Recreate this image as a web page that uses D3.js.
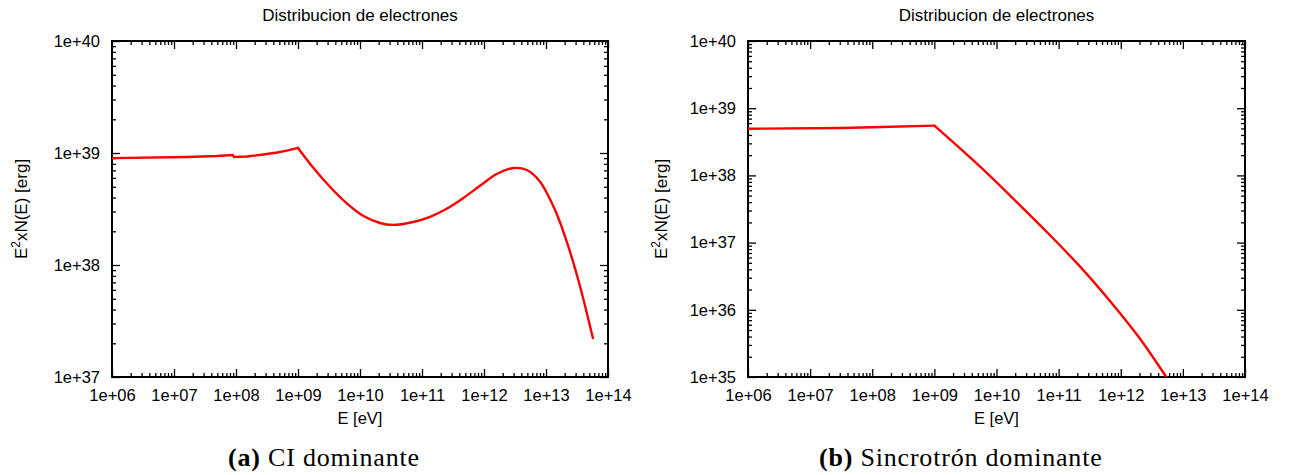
<!DOCTYPE html>
<html lang="es">
<head>
<meta charset="UTF-8">
<title>Distribucion de electrones</title>
<script src="https://cdn.jsdelivr.net/npm/d3@7"></script>
<style>
  body { margin: 0; background: #fff; }
  text { font-family: "Liberation Sans", Arial, sans-serif; fill: #000; }
  .caption { font-family: "Liberation Serif", "DejaVu Serif", serif; }
</style>
</head>
<body>
<svg id="fig" width="1301" height="475"></svg>
<script>
// panel (a): CI dominante  (flat injection part, then cooled part after the 1e9 break)
const energyA = [1e6, 1.6e7, 4.9e7, 8.9e7, 9.3e7, 1.5e8, 2.75e8, 4.6e8, 6.6e8, 1e9,
                 1.75e9, 3.3e9, 6.2e9, 1.12e10, 2.1e10, 3.4e10, 7.2e10, 1.35e11,
                 2.5e11, 4.6e11, 8.6e11, 1.6e12, 3.0e12, 4.9e12, 7.9e12, 1.4e13,
                 2.2e13, 3.5e13, 5.7e13];
const valueA  = [9.0e38, 9.2e38, 9.4e38, 9.6e38, 9.2e38, 9.3e38, 9.7e38, 1.01e39, 1.05e39, 1.11e39,
                 7.43e38, 4.97e38, 3.53e38, 2.75e38, 2.37e38, 2.28e38, 2.42e38, 2.69e38,
                 3.18e38, 3.95e38, 5.09e38, 6.49e38, 7.35e38, 7.05e38, 5.6e38, 3.1e38,
                 1.57e38, 6.6e37, 2.23e37];
const breakA = 9;   // index of the 1e9 corner

// panel (b): Sincrotron dominante
const energyB = [1e6, 3.0e7, 1.0e8, 1e9, 5.4e9, 2.3e10, 7.9e10, 2.2e11, 7.4e11, 2.0e12, 5.4e12];
const valueB  = [4.95e38, 5.07e38, 5.2e38, 5.5e38, 1.36e38, 3.71e37, 1.19e37, 4.42e36, 1.21e36, 3.8e35, 1.0e35];
const breakB = 3;

const xTickLabels = ["1e+06", "1e+07", "1e+08", "1e+09", "1e+10", "1e+11", "1e+12", "1e+13", "1e+14"];
const yTickLabelsA = ["1e+37", "1e+38", "1e+39", "1e+40"];
const yTickLabelsB = ["1e+35", "1e+36", "1e+37", "1e+38", "1e+39", "1e+40"];

const titleText = "Distribucion de electrones";
const xTitle = "E [eV]";

const svg = d3.select("#fig");

function minorTicks(lo, hi) {
    const out = [];
    for (let e = lo; e < hi; e++)
        for (let m = 2; m <= 9; m++) out.push(m * Math.pow(10, e));
    return out;
}

function drawPanel(opts) {
    const x = d3.scaleLog().domain([1e6, 1e14]).range([opts.left, opts.right]);
    const y = d3.scaleLog().domain(opts.yDomain).range([opts.bottom, opts.top]);
    const g = svg.append("g");

    const xMajor = xTickLabels.map(s => +s);
    const yMajor = opts.yLabels.map(s => +s);
    const ey = opts.yDomain.map(v => Math.round(Math.log10(v)));
    const xMinor = minorTicks(6, 14), yMinor = minorTicks(ey[0], ey[1]);

    // inward ticks on all four sides, like gnuplot
    const tickSets = [
        [d3.axisBottom(x), opts.bottom, "x"], [d3.axisTop(x), opts.top, "x"],
        [d3.axisLeft(y), opts.left, "y"], [d3.axisRight(y), opts.right, "y"]
    ];
    tickSets.forEach(([axis, pos, dir]) => {
        const major = dir === "x" ? xMajor : yMajor;
        const minor = dir === "x" ? xMinor : yMinor;
        const tr = dir === "x" ? `translate(0,${pos})` : `translate(${pos},0)`;
        [[minor, 4], [major, 8]].forEach(([vals, len]) => {
            const a = axis.tickValues(vals).tickSize(-len).tickFormat("");
            g.append("g").attr("transform", tr).call(a)
                .call(s => s.select(".domain").remove())
                .selectAll("line").attr("stroke", "#000").attr("stroke-width", 1.3);
        });
    });

    // labels
    g.append("g").attr("transform", `translate(0,${opts.bottom})`)
        .call(d3.axisBottom(x).tickValues(xMajor).tickSize(0).tickPadding(12)
            .tickFormat((d, i) => xTickLabels[i]))
        .call(s => s.select(".domain").remove())
        .selectAll("text").attr("font-size", 16.5).attr("font-family", "Liberation Sans, Arial, sans-serif");
    g.append("g").attr("transform", `translate(${opts.left},0)`)
        .call(d3.axisLeft(y).tickValues(yMajor).tickSize(0).tickPadding(12)
            .tickFormat((d, i) => opts.yLabels[i]))
        .call(s => s.select(".domain").remove())
        .selectAll("text").attr("font-size", 16.5).attr("font-family", "Liberation Sans, Arial, sans-serif");

    // frame
    g.append("rect")
        .attr("x", opts.left).attr("y", opts.top)
        .attr("width", opts.right - opts.left).attr("height", opts.bottom - opts.top)
        .attr("fill", "none").attr("stroke", "#000").attr("stroke-width", 2);

    // curve: two pieces meeting at the sharp break
    const clipId = "clip" + opts.id;
    svg.append("clipPath").attr("id", clipId).append("rect")
        .attr("x", opts.left).attr("y", opts.top)
        .attr("width", opts.right - opts.left).attr("height", opts.bottom - opts.top);
    const pts = opts.energy.map((e, i) => [e, opts.values[i]]);
    const pieces = [
        [pts.slice(0, opts.brk + 1), d3.curveLinear],
        [pts.slice(opts.brk), d3.curveCatmullRom.alpha(0.5)]
    ];
    pieces.forEach(([p, curve]) => {
        g.append("path")
            .datum(p)
            .attr("clip-path", `url(#${clipId})`)
            .attr("fill", "none").attr("stroke", "#ff0000").attr("stroke-width", 2.4)
            .attr("stroke-linejoin", "round").attr("stroke-linecap", "round")
            .attr("d", d3.line().x(d => x(d[0])).y(d => y(d[1])).curve(curve));
    });

    const cx = (opts.left + opts.right) / 2;
    g.append("text").attr("x", cx).attr("y", 21).attr("text-anchor", "middle")
        .attr("font-size", 17).text(titleText);
    g.append("text").attr("x", cx).attr("y", 424).attr("text-anchor", "middle")
        .attr("font-size", 16.5).text(xTitle);

    const yt = g.append("text")
        .attr("transform", `translate(${opts.ytX},${(opts.top + opts.bottom) / 2}) rotate(-90)`)
        .attr("text-anchor", "middle").attr("font-size", 17);
    yt.append("tspan").text("E");
    yt.append("tspan").attr("font-size", 12).attr("dy", -7).text("2");
    yt.append("tspan").attr("dy", 7).text("xN(E) [erg]");

    const cap = g.append("text").attr("class", "caption")
        .attr("x", opts.capX).attr("y", 466).attr("font-size", 26)
        .attr("letter-spacing", 0.8);
    cap.append("tspan").attr("font-weight", "bold").text(opts.capTag);
    cap.append("tspan").text("\u00a0" + opts.capText);
}

drawPanel({
    id: "a", left: 112, right: 608, top: 41, bottom: 377,
    yDomain: [1e37, 1e40], yLabels: yTickLabelsA,
    energy: energyA, values: valueA, brk: breakA, ytX: 27,
    capX: 228, capTag: "(a)", capText: "CI dominante"
});
drawPanel({
    id: "b", left: 748, right: 1245, top: 41, bottom: 377,
    yDomain: [1e35, 1e40], yLabels: yTickLabelsB,
    energy: energyB, values: valueB, brk: breakB, ytX: 667,
    capX: 819, capTag: "(b)", capText: "Sincrotrón dominante"
});
</script>
</body>
</html>
